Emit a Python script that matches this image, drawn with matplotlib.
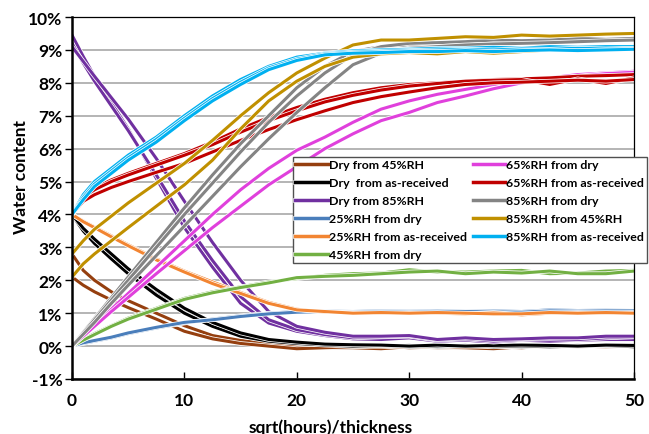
import matplotlib
matplotlib.use("Agg")
import matplotlib.pyplot as plt
import matplotlib.patheffects as pe
from matplotlib.ticker import FuncFormatter

plt.rcParams['font.family'] = ['Lato', 'DejaVu Sans']
plt.rcParams['font.weight'] = 'bold'

# sqrt(hours)/thickness
x = [0, 1, 2, 3.5, 5, 7.5, 10, 12.5, 15, 17.5, 20, 22.5, 25, 27.5, 30, 32.5, 35, 37.5, 40, 42.5, 45, 47.5, 50]

# water content (%), one list per replicate
dry_45 = [
    [2.8, 2.3, 2.0, 1.65, 1.38, 1.0, 0.62, 0.32, 0.17, 0.08, 0.0, -0.05, -0.05, -0.08, -0.02, -0.05, -0.05, -0.03, -0.05, 0.0, -0.02, 0.0, 0.02],
    [2.1, 1.85, 1.65, 1.4, 1.17, 0.82, 0.45, 0.22, 0.08, 0.0, -0.08, -0.05, -0.02, 0.0, -0.05, -0.03, -0.05, -0.08, -0.02, -0.03, 0.0, -0.02, 0.0],
]
dry_asrec = [
    [4.0, 3.55, 3.2, 2.75, 2.3, 1.65, 1.1, 0.68, 0.35, 0.17, 0.1, 0.05, 0.03, 0.0, 0.02, -0.02, 0.0, 0.0, -0.02, 0.0, 0.02, 0.0, 0.0],
    [4.0, 3.5, 3.12, 2.65, 2.2, 1.55, 1.0, 0.6, 0.3, 0.15, 0.08, 0.03, 0.0, 0.02, -0.02, 0.0, 0.02, -0.02, 0.0, -0.02, 0.0, 0.02, -0.02],
    [4.0, 3.58, 3.25, 2.8, 2.35, 1.72, 1.15, 0.72, 0.4, 0.2, 0.12, 0.06, 0.04, 0.03, 0.0, 0.03, 0.0, 0.02, 0.03, 0.02, 0.0, 0.03, 0.02],
]
dry_85 = [
    [9.45, 8.8, 8.2, 7.4, 6.6, 5.1, 3.6, 2.4, 1.3, 0.7, 0.45, 0.32, 0.22, 0.2, 0.25, 0.15, 0.18, 0.12, 0.18, 0.15, 0.18, 0.2, 0.2],
    [9.2, 8.6, 8.05, 7.3, 6.55, 5.2, 3.8, 2.6, 1.5, 0.8, 0.5, 0.35, 0.25, 0.28, 0.3, 0.18, 0.22, 0.15, 0.2, 0.22, 0.2, 0.25, 0.28],
    [9.1, 8.65, 8.2, 7.55, 6.9, 5.7, 4.4, 3.15, 2.0, 1.05, 0.6, 0.42, 0.3, 0.3, 0.32, 0.2, 0.25, 0.2, 0.22, 0.25, 0.25, 0.3, 0.3],
]
rh25_dry = [
    [0, 0.08, 0.15, 0.25, 0.38, 0.55, 0.7, 0.82, 0.92, 1.0, 1.05, 1.07, 1.05, 1.08, 1.07, 1.08, 1.06, 1.07, 1.05, 1.1, 1.08, 1.09, 1.08],
    [0, 0.1, 0.17, 0.27, 0.4, 0.57, 0.72, 0.8, 0.9, 0.98, 1.03, 1.05, 1.04, 1.05, 1.05, 1.06, 1.05, 1.04, 1.03, 1.07, 1.06, 1.07, 1.07],
]
rh25_asrec = [
    [4.0, 3.8, 3.62, 3.35, 3.08, 2.65, 2.28, 1.95, 1.63, 1.33, 1.12, 1.03, 1.02, 1.0, 1.02, 1.0, 0.98, 1.02, 0.95, 1.0, 1.02, 1.0, 1.02],
    [4.0, 3.78, 3.6, 3.32, 3.05, 2.62, 2.25, 1.9, 1.6, 1.3, 1.1, 1.05, 1.0, 1.02, 1.0, 1.02, 1.0, 0.98, 0.98, 1.02, 1.0, 1.02, 1.0],
]
rh45_dry = [
    [0, 0.2, 0.38, 0.62, 0.85, 1.15, 1.45, 1.65, 1.8, 1.95, 2.05, 2.15, 2.2, 2.22, 2.32, 2.25, 2.25, 2.28, 2.3, 2.2, 2.22, 2.28, 2.3],
    [0, 0.18, 0.35, 0.6, 0.82, 1.12, 1.42, 1.62, 1.78, 1.92, 2.08, 2.12, 2.15, 2.2, 2.25, 2.28, 2.2, 2.25, 2.22, 2.28, 2.2, 2.2, 2.28],
]
rh65_dry = [
    [0, 0.32, 0.65, 1.12, 1.6, 2.4, 3.2, 4.0, 4.75, 5.4, 5.95, 6.35, 6.8, 7.2, 7.45, 7.65, 7.8, 7.95, 8.05, 8.15, 8.25, 8.3, 8.35],
    [0, 0.3, 0.6, 1.05, 1.48, 2.2, 2.9, 3.6, 4.25, 4.9, 5.45, 6.0, 6.45, 6.85, 7.1, 7.4, 7.6, 7.82, 8.0, 8.1, 8.2, 8.28, 8.32],
]
rh65_asrec = [
    [4.0, 4.55, 4.8, 5.05, 5.25, 5.55, 5.85, 6.2, 6.6, 6.95, 7.25, 7.5, 7.7, 7.85, 7.95, 8.0, 8.05, 8.1, 8.12, 8.15, 8.2, 8.22, 8.25],
    [4.0, 4.5, 4.75, 5.0, 5.2, 5.5, 5.8, 6.12, 6.5, 6.85, 7.15, 7.42, 7.62, 7.78, 7.9, 7.98, 8.05, 8.08, 8.1, 7.95, 8.12, 7.98, 8.15],
    [4.0, 4.4, 4.6, 4.82, 5.0, 5.28, 5.55, 5.9, 6.25, 6.58, 6.88, 7.15, 7.4, 7.58, 7.72, 7.85, 7.95, 8.0, 8.02, 8.05, 8.08, 8.05, 8.1],
]
rh85_dry = [
    [0, 0.42, 0.84, 1.47, 2.1, 3.15, 4.2, 5.2, 6.15, 7.0, 7.85, 8.5, 8.95, 9.1, 9.15, 9.2, 9.2, 9.25, 9.25, 9.3, 9.28, 9.3, 9.3],
    [0, 0.4, 0.8, 1.4, 2.0, 3.0, 4.0, 4.95, 5.9, 6.8, 7.6, 8.3, 8.85, 9.1, 9.2, 9.22, 9.25, 9.3, 9.28, 9.3, 9.35, 9.32, 9.35],
    [0, 0.36, 0.72, 1.3, 1.85, 2.75, 3.65, 4.55, 5.45, 6.3, 7.1, 7.85, 8.55, 8.9, 9.05, 9.1, 9.15, 9.18, 9.2, 9.22, 9.25, 9.28, 9.3],
]
rh85_45 = [
    [2.8, 3.2, 3.55, 3.95, 4.35, 4.95, 5.55, 6.25, 7.0, 7.7, 8.3, 8.75, 9.15, 9.3, 9.3, 9.35, 9.4, 9.38, 9.45, 9.42, 9.45, 9.48, 9.5],
    [2.1, 2.5, 2.8, 3.2, 3.6, 4.25, 4.9, 5.65, 6.6, 7.45, 8.05, 8.5, 8.78, 8.88, 8.92, 8.88, 8.95, 8.9, 8.95, 9.0, 8.98, 9.02, 9.05],
]
rh85_asrec = [
    [4.0, 4.6, 5.0, 5.4, 5.8, 6.35, 7.0, 7.6, 8.1, 8.5, 8.78, 8.9, 8.97, 9.0, 9.02, 9.05, 9.05, 9.08, 9.05, 9.1, 9.08, 9.1, 9.1],
    [4.0, 4.52, 4.92, 5.32, 5.72, 6.28, 6.92, 7.52, 8.02, 8.45, 8.72, 8.88, 8.93, 8.96, 8.98, 9.0, 9.02, 9.0, 9.03, 9.02, 9.05, 9.03, 9.05],
    [4.0, 4.45, 4.85, 5.25, 5.65, 6.2, 6.85, 7.45, 7.95, 8.4, 8.68, 8.85, 8.9, 8.92, 8.95, 8.95, 8.98, 8.95, 8.98, 9.0, 8.98, 9.0, 9.02],
]

labels = ['Dry from 45%RH', 'Dry  from as-received', 'Dry from 85%RH',
          '25%RH from dry', '25%RH from as-received', '45%RH from dry',
          '65%RH from dry', '65%RH from as-received', '85%RH from dry',
          '85%RH from 45%RH', '85%RH from as-received']
series = [dry_45, dry_asrec, dry_85, rh25_dry, rh25_asrec, rh45_dry,
          rh65_dry, rh65_asrec, rh85_dry, rh85_45, rh85_asrec]
colors = ['#953f0f', '#000000', '#7030a0', '#4a7ebb', '#f28532', '#72b043',
          '#e040dc', '#c00000', '#848484', '#c09000', '#00b0f0']

fig = plt.figure(figsize=(6.49, 4.35), dpi=100)
ax = fig.add_axes([72/649, 1 - 380/435, (634 - 72)/649, (380 - 18)/435])

outline = [pe.Stroke(linewidth=3.3, foreground='white'), pe.Normal()]
for reps, lab, col in zip(series, labels, colors):
    for i, ys in enumerate(reps):
        ax.plot(x, ys, color=col, lw=2.2, label=lab if i == 0 else None,
                path_effects=outline, solid_joinstyle='round')

ax.set_xlim(0, 50)
ax.set_ylim(-1, 10)
ax.set_xticks(range(0, 51, 10))
ax.set_yticks(range(-1, 11))
ax.yaxis.set_major_formatter(FuncFormatter(lambda v, p: '%d%%' % v))
ax.grid(axis='y', color='#a0a0a0', lw=1.1)
ax.set_axisbelow(True)

ax.tick_params(axis='x', direction='in', length=5, width=1, labelsize=12.5, pad=9)
ax.tick_params(axis='y', direction='out', length=5, width=1, labelsize=12.5, pad=2)
for s in ['left', 'bottom']:
    ax.spines[s].set_linewidth(1.8)
for s in ['top', 'right']:
    ax.spines[s].set_linewidth(0.9)

ax.set_xlabel('sqrt(hours)/thickness', fontsize=12.5, fontweight='bold')
ax.xaxis.set_label_coords(0.46, -0.11)
ax.set_ylabel('Water content', fontsize=12.5, fontweight='bold')
ax.yaxis.set_label_coords(-0.077, 0.56)

leg = fig.legend(loc='upper left', bbox_to_anchor=(293/649, 1 - 158/435), ncol=2,
                 fontsize=8.9, frameon=True, fancybox=False, framealpha=1,
                 edgecolor='#505050', handlelength=2.6, handletextpad=0.1,
                 labelspacing=0.56, borderpad=0.2, borderaxespad=0,
                 columnspacing=0.5)
leg.get_frame().set_linewidth(1.0)
for t in leg.get_texts():
    t.set_fontweight('bold')
for h in leg.get_lines():
    h.set_linewidth(2.5)

fig.savefig('out.png', dpi=100)
